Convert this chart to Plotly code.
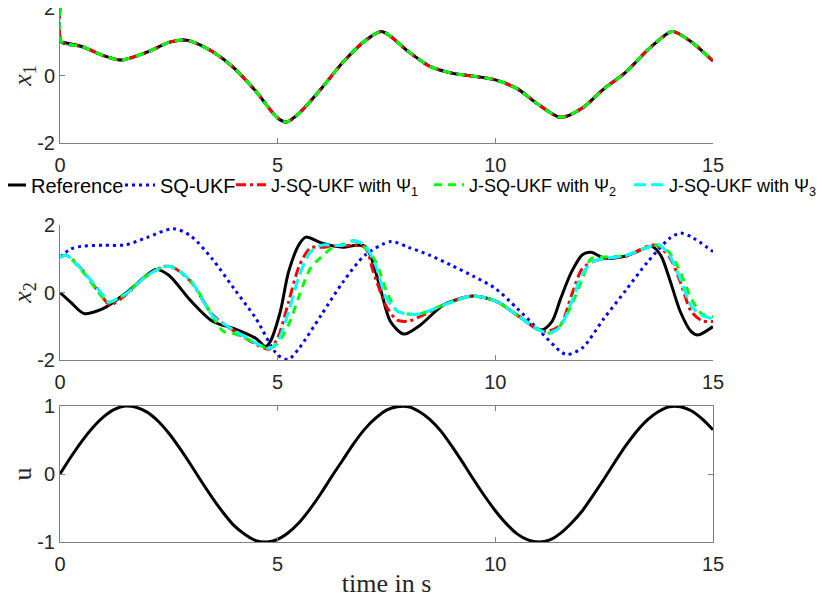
import plotly.graph_objects as go

# ---------------- data ----------------
# x1 (top panel)
t_x1_ref = [0, 0.5, 1.0, 1.4, 2.0, 2.5, 2.8, 3.0, 3.5, 4.0, 4.5, 5.0, 5.2, 5.5, 6.0,
            6.5, 7.0, 7.4, 8.0, 8.5, 9.0, 9.5, 10.0, 10.5, 11.0, 11.5, 12.0, 12.5,
            13.0, 13.5, 14.0, 14.1, 14.5, 15.0]
x1_ref = [1.00, 0.86, 0.59, 0.46, 0.69, 0.98, 1.05, 1.02, 0.71, 0.22, -0.47, -1.26,
          -1.38, -1.11, -0.39, 0.39, 1.02, 1.30, 0.71, 0.27, 0.07, -0.02, -0.13, -0.39,
          -0.87, -1.24, -0.96, -0.39, 0.10, 0.76, 1.28, 1.30, 1.00, 0.43]
t_x1_est = [0, 0.04, 0.5, 1.0, 1.4, 2.0, 2.5, 2.8, 3.0, 3.5, 4.0, 4.5, 5.0, 5.2, 5.5,
            6.0, 6.5, 7.0, 7.4, 8.0, 8.5, 9.0, 9.5, 10.0, 10.5, 11.0, 11.5, 12.0,
            12.5, 13.0, 13.5, 14.0, 14.1, 14.5, 15.0]
x1_est = [2.00, 1.00, 0.86, 0.59, 0.46, 0.69, 0.98, 1.05, 1.02, 0.71, 0.22, -0.47,
          -1.26, -1.38, -1.11, -0.39, 0.39, 1.02, 1.30, 0.71, 0.27, 0.07, -0.02, -0.13,
          -0.39, -0.87, -1.24, -0.96, -0.39, 0.10, 0.76, 1.28, 1.30, 1.00, 0.43]

# x2 (middle panel)
t_x2_ref = [0, 0.25, 0.55, 1.0, 1.5, 2.0, 2.2, 2.5, 3.0, 3.5, 4.0, 4.5, 4.72, 4.83,
            5.06, 5.25, 5.5, 5.65, 6.0, 6.5, 6.8, 7.0, 7.13, 7.36, 7.59, 7.9, 8.28,
            8.81, 9.43, 9.81, 10.1, 10.5, 11.05, 11.3, 11.5, 11.75, 12.0, 12.2, 12.5,
            13.0, 13.6, 13.8, 14.0, 14.25, 14.5, 14.65, 15.0]
x2_ref = [0.00, -0.29, -0.62, -0.47, -0.03, 0.52, 0.68, 0.51, -0.24, -0.85, -1.07,
          -1.36, -1.60, -1.45, -0.57, 0.61, 1.44, 1.64, 1.47, 1.34, 1.40, 1.38, 1.10,
          0.12, -0.86, -1.23, -0.96, -0.37, -0.11, -0.17, -0.31, -0.67, -1.11, -0.86,
          -0.18, 0.61, 1.12, 1.19, 1.02, 1.08, 1.36, 1.10, 0.41, -0.57, -1.16, -1.26,
          -1.01]

t_x2_sq = [0, 0.25, 0.5, 1.0, 1.5, 2.0, 2.6, 3.0, 3.5, 4.0, 4.5, 5.0, 5.25, 5.5, 6.0,
           6.5, 7.0, 7.6, 8.0, 8.5, 9.0, 9.5, 10.0, 10.5, 11.0, 11.5, 11.65, 12.0,
           12.5, 13.0, 13.5, 14.0, 14.25, 14.5, 15.0]
x2_sq = [1.05, 1.29, 1.37, 1.40, 1.41, 1.63, 1.89, 1.68, 0.99, 0.11, -0.77, -1.85,
         -1.98, -1.64, -0.67, 0.31, 1.10, 1.51, 1.34, 1.10, 0.80, 0.48, 0.12, -0.47,
         -1.11, -1.75, -1.84, -1.64, -0.76, 0.07, 0.91, 1.60, 1.76, 1.65, 1.21]

t_x2_p1 = [0, 0.15, 0.5, 1.0, 1.15, 1.5, 2.0, 2.5, 3.0, 3.5, 4.0, 4.5, 4.8, 5.0, 5.25,
           5.5, 5.75, 6.0, 6.5, 7.0, 7.2, 7.5, 7.75, 8.0, 8.25, 8.81, 9.43, 9.81,
           10.1, 10.5, 11.0, 11.2, 11.5, 11.75, 12.0, 12.25, 12.5, 13.0, 13.5, 13.7,
           14.0, 14.25, 14.5, 14.75, 15.0]
x2_p1 = [1.05, 1.10, 0.69, -0.18, -0.37, -0.08, 0.51, 0.79, 0.33, -0.65, -1.14, -1.53,
         -1.68, -1.35, -0.28, 0.80, 1.32, 1.34, 1.39, 1.34, 0.60, -0.42, -0.82, -0.85,
         -0.72, -0.37, -0.11, -0.17, -0.31, -0.67, -1.11, -1.15, -0.96, -0.08, 0.71,
         0.92, 1.00, 1.08, 1.37, 1.40, 1.05, 0.31, -0.56, -0.84, -0.86]

t_x2_p2 = [0, 0.15, 0.5, 1.0, 1.1, 1.5, 2.0, 2.5, 3.0, 3.5, 3.75, 4.0, 4.5, 4.8, 5.0,
           5.25, 5.5, 5.75, 6.0, 6.25, 6.5, 6.75, 7.0, 7.25, 7.5, 7.75, 8.0, 8.25,
           8.81, 9.43, 9.81, 10.1, 10.5, 11.0, 11.25, 11.5, 11.75, 12.0, 12.2, 12.5,
           13.0, 13.5, 13.75, 14.0, 14.25, 14.5, 14.75, 15.0]
x2_p2 = [1.05, 1.10, 0.65, -0.18, -0.30, -0.05, 0.50, 0.78, 0.35, -0.70, -1.15, -1.22,
         -1.50, -1.66, -1.50, -0.96, -0.08, 0.71, 1.05, 1.32, 1.43, 1.53, 1.34, 0.92,
         0.04, -0.55, -0.64, -0.64, -0.37, -0.11, -0.17, -0.31, -0.67, -1.11, -1.20,
         -0.96, -0.37, 0.41, 1.00, 1.05, 1.10, 1.34, 1.40, 1.18, 0.60, -0.18, -0.64,
         -0.72]

t_x2_p3 = [0, 0.15, 0.5, 1.0, 1.1, 1.5, 2.0, 2.5, 3.0, 3.5, 4.0, 4.5, 4.8, 5.0, 5.25,
           5.5, 5.75, 6.0, 6.5, 6.75, 7.0, 7.25, 7.5, 7.75, 8.0, 8.25, 8.81, 9.43,
           9.81, 10.1, 10.5, 11.0, 11.25, 11.5, 11.75, 12.0, 12.25, 12.5, 13.0, 13.5,
           13.75, 14.0, 14.25, 14.5, 14.75, 15.0]
x2_p3 = [1.05, 1.10, 0.68, -0.10, -0.28, -0.05, 0.50, 0.78, 0.35, -0.68, -1.12, -1.50,
         -1.66, -1.45, -0.57, 0.51, 1.19, 1.40, 1.40, 1.53, 1.40, 0.80, -0.18, -0.55,
         -0.64, -0.64, -0.37, -0.11, -0.17, -0.31, -0.67, -1.11, -1.20, -1.00, -0.28,
         0.55, 0.92, 1.00, 1.10, 1.34, 1.42, 1.10, 0.40, -0.40, -0.68, -0.78]

# u (bottom panel)
t_u = [0, 0.25, 0.5, 0.75, 1.0, 1.25, 1.5, 1.75, 2.0, 2.25, 2.5, 2.75, 3.0, 3.25, 3.5,
       3.75, 4.0, 4.25, 4.5, 4.75, 5.0, 5.25, 5.5, 5.75, 6.0, 6.25, 6.5, 6.75, 7.0,
       7.25, 7.5, 7.75, 8.0, 8.25, 8.5, 8.75, 9.0, 9.25, 9.5, 9.75, 10.0, 10.25, 10.5,
       10.75, 11.0, 11.25, 11.5, 11.75, 12.0, 12.25, 12.5, 12.75, 13.0, 13.25, 13.5,
       13.75, 14.0, 14.25, 14.5, 14.75, 15.0]
u_vals = [0.00, 0.25, 0.48, 0.68, 0.84, 0.95, 1.00, 0.98, 0.91, 0.78, 0.60, 0.38, 0.14,
          -0.11, -0.35, -0.57, -0.76, -0.89, -0.98, -1.00, -0.96, -0.86, -0.71, -0.51,
          -0.28, -0.03, 0.21, 0.45, 0.66, 0.82, 0.94, 0.99, 0.99, 0.92, 0.80, 0.63,
          0.41, 0.17, -0.08, -0.32, -0.54, -0.73, -0.88, -0.97, -1.00, -0.97, -0.87,
          -0.72, -0.54, -0.31, -0.07, 0.18, 0.42, 0.63, 0.80, 0.92, 0.99, 0.99, 0.93,
          0.81, 0.65]

names = ["Reference", "SQ-UKF", "J-SQ-UKF with \u03a8<sub>1</sub>",
         "J-SQ-UKF with \u03a8<sub>2</sub>", "J-SQ-UKF with \u03a8<sub>3</sub>"]
x_ticks = [0, 5, 10, 15]

# ---------------- styles ----------------
C_REF, C_SQ, C_P1, C_P2, C_P3 = "#000000", "#0000ff", "#ff0000", "#00ff00", "#00ffff"
D_SQ = "3px,4px"
D_P1 = "10px,4px,3px,4px"
D_P2 = "8px,6px"
D_P3 = "12px,5px"
LW = 3

# the page body adds an 8 px offset; the figure is sized to fit the window with it
W, H = 823, 590
OFF = 8
ML = 60 - OFF
PW = 713 - 60
MR = W - ML - PW

fig = go.Figure()

def add(x, y, color, dash, name, xa, ya, legend=None):
    fig.add_trace(go.Scatter(
        x=x, y=y, mode="lines", name=name, showlegend=legend is not None,
        legend=legend if legend else "legend",
        line=dict(color=color, width=LW, dash=dash, shape="spline", smoothing=0.8),
        xaxis=xa, yaxis=ya, hoverinfo="skip"))

# top panel
add(t_x1_est, x1_est, C_P3, D_P3, names[4], "x", "y")
add(t_x1_ref, x1_ref, C_REF, "solid", names[0], "x", "y")
add(t_x1_est, x1_est, C_SQ, D_SQ, names[1], "x", "y")
add(t_x1_est, x1_est, C_P1, D_P1, names[2], "x", "y")
add(t_x1_est, x1_est, C_P2, D_P2, names[3], "x", "y")

# middle panel
add(t_x2_ref, x2_ref, C_REF, "solid", names[0], "x2", "y2", "legend")
add(t_x2_sq, x2_sq, C_SQ, D_SQ, names[1], "x2", "y2", "legend2")
add(t_x2_p1, x2_p1, C_P1, D_P1, names[2], "x2", "y2", "legend3")
add(t_x2_p2, x2_p2, C_P2, D_P2, names[3], "x2", "y2", "legend4")
add(t_x2_p3, x2_p3, C_P3, D_P3, names[4], "x2", "y2", "legend5")

# bottom panel
add(t_u, u_vals, C_REF, "solid", "u", "x3", "y3")

def dom(top_px, bot_px):
    top = max(0.0, top_px - OFF)
    bot = bot_px - OFF
    return [1 - bot / H, 1 - top / H]

AX_COL = "#808080"
TXT_COL = "#262626"
tick_font = dict(family="Liberation Sans, Arial, sans-serif", size=20, color=TXT_COL)
title_font = dict(family="Liberation Serif, DejaVu Serif, serif", size=26, color=TXT_COL)

def xaxis(anchor, mirror=False, title=None):
    d = dict(domain=[0, 1], anchor=anchor, range=[0, 15], tickvals=x_ticks,
             ticktext=[str(v) for v in x_ticks], ticks="inside", ticklen=5,
             tickcolor=AX_COL, showline=True, linecolor=AX_COL, linewidth=1,
             showgrid=False, zeroline=False, tickfont=tick_font,
             ticklabelstandoff=4, automargin=False, mirror=mirror)
    if title:
        d["title"] = dict(text=title, font=title_font, standoff=12)
    return d

def yaxis(anchor, domain, rng, tv, title, standoff, mirror=False):
    return dict(domain=domain, anchor=anchor, range=rng, tickvals=tv,
                ticktext=[str(v) for v in tv], ticks="inside", ticklen=5,
                tickcolor=AX_COL, showline=True, linecolor=AX_COL, linewidth=1,
                showgrid=False, zeroline=False, tickfont=tick_font,
                ticklabeloverflow="allow",
                automargin=False, mirror=mirror,
                title=dict(text=title, font=title_font, standoff=standoff))

leg_y = 1 - (185 - OFF) / H
text_starts = [31, 160, 271, 469, 669]   # screen x of each legend text
leg_sizes = [20, 20, 18, 18, 18]
legends = {}
for i, ts in enumerate(text_starts):
    key = "legend" if i == 0 else "legend%d" % (i + 1)
    legends[key] = dict(orientation="h", x=(ts - OFF - 40 - ML) / PW, xanchor="left",
                        y=leg_y, yanchor="middle", bgcolor="rgba(0,0,0,0)",
                        font=dict(family="Liberation Sans, Arial, sans-serif",
                                  size=leg_sizes[i], color="#000000"),
                        itemwidth=30, borderwidth=0)

fig.update_layout(
    width=W, height=H,
    margin=dict(l=ML, r=MR, t=0, b=0, pad=0, autoexpand=False),
    paper_bgcolor="white", plot_bgcolor="white",
    xaxis=xaxis("y"),
    yaxis=yaxis("x", dom(7, 143), [-2, 2], [-2, 0, 2], "<i>x</i><sub>1</sub>", 19),
    xaxis2=xaxis("y2"),
    yaxis2=yaxis("x2", dom(225, 360), [-2, 2], [-2, 0, 2], "<i>x</i><sub>2</sub>", 19),
    xaxis3=xaxis("y3", mirror="ticks", title="time in s"),
    yaxis3=yaxis("x3", dom(406, 542), [-1, 1], [-1, 0, 1], "u", 19, mirror="ticks"),
    showlegend=True,
    **legends,
)

fig.write_html("out.html")
